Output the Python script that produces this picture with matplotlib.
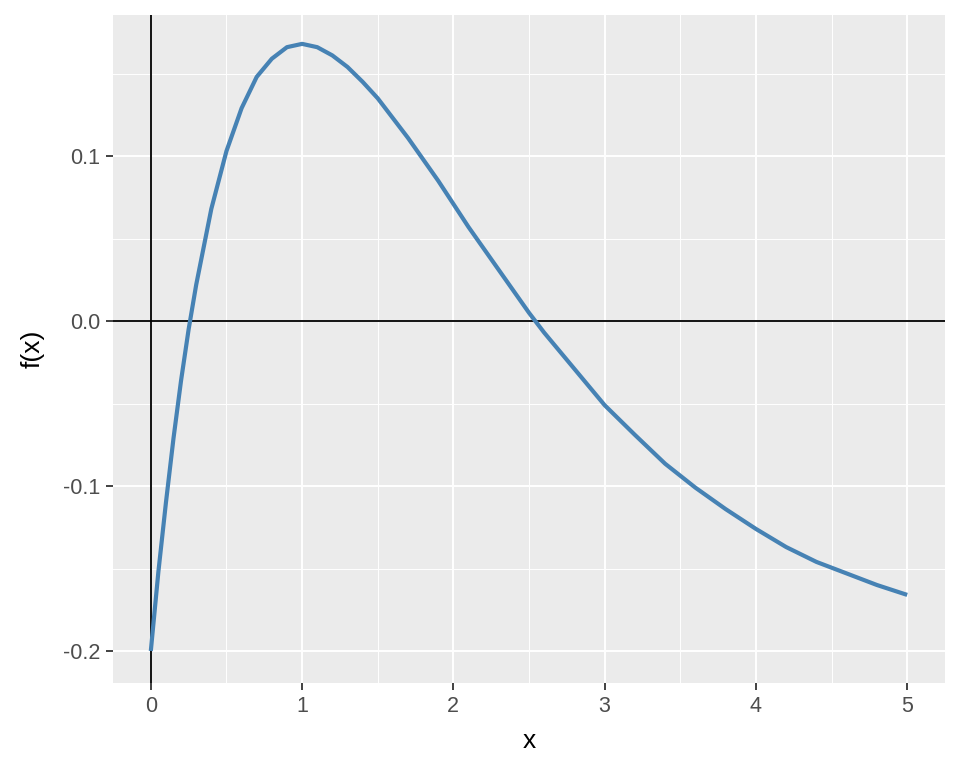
import matplotlib
matplotlib.use("Agg")
import matplotlib.pyplot as plt
from matplotlib.ticker import FixedLocator

x_vals = [0.0, 0.05, 0.1, 0.15, 0.2, 0.25, 0.3, 0.4, 0.5, 0.6, 0.7, 0.8, 0.9, 1.0,
          1.1, 1.2, 1.3, 1.4, 1.5, 1.6, 1.7, 1.8, 1.9, 2.0, 2.1, 2.2, 2.3, 2.4, 2.5,
          2.6, 2.7, 2.8, 2.9, 3.0, 3.2, 3.4, 3.6, 3.8, 4.0, 4.2, 4.4, 4.6, 4.8, 5.0]
y_vals = [-0.200, -0.152, -0.110, -0.071, -0.036, -0.005, 0.022, 0.068, 0.103, 0.129,
          0.148, 0.159, 0.166, 0.168, 0.166, 0.161, 0.154, 0.145, 0.135, 0.123, 0.111,
          0.098, 0.085, 0.071, 0.057, 0.044, 0.031, 0.018, 0.005, -0.007, -0.018, -0.029,
          -0.040, -0.051, -0.069, -0.0865, -0.101, -0.114, -0.126, -0.137, -0.146, -0.153,
          -0.160, -0.166]

x_ticks = [0, 1, 2, 3, 4, 5]
x_minor = [0.5, 1.5, 2.5, 3.5, 4.5]
y_ticks = [-0.2, -0.1, 0.0, 0.1]
y_minor = [-0.15, -0.05, 0.05, 0.15]
y_tick_labels = ["-0.2", "-0.1", "0.0", "0.1"]

plt.rcParams['font.family'] = ['Liberation Sans', 'DejaVu Sans']

fig = plt.figure(figsize=(9.6, 7.68), dpi=100)
ax = fig.add_axes([113/960, 85/768, 832/960, 668/768])
ax.set_facecolor('#EBEBEB')

ax.set_xlim(-0.25, 5.25)
ax.set_ylim(-0.2194, 0.1855)

ax.xaxis.set_major_locator(FixedLocator(x_ticks))
ax.xaxis.set_minor_locator(FixedLocator(x_minor))
ax.yaxis.set_major_locator(FixedLocator(y_ticks))
ax.yaxis.set_minor_locator(FixedLocator(y_minor))
ax.set_yticklabels(y_tick_labels)
ax.set_xticklabels([str(t) for t in x_ticks])

ax.grid(which='major', color='white', linewidth=1.4)
ax.grid(which='minor', color='white', linewidth=0.7)
ax.set_axisbelow(True)
for s in ax.spines.values():
    s.set_visible(False)

ax.tick_params(which='major', length=5, width=1.3, color='#333333',
               labelcolor='#4D4D4D', labelsize=15.5, pad=4)
ax.tick_params(which='minor', length=0)

ax.axhline(0, color='black', linewidth=1.3, zorder=2)
ax.axvline(0, color='black', linewidth=1.3, zorder=2)

ax.plot(x_vals, y_vals, color='#4682B4', linewidth=3.0, zorder=3,
        solid_joinstyle='round', solid_capstyle='butt')

ax.set_xlabel('x', fontsize=19, color='black', labelpad=9)
ax.set_ylabel('f(x)', fontsize=19, color='black', labelpad=13)

fig.savefig('out.png', dpi=100)
